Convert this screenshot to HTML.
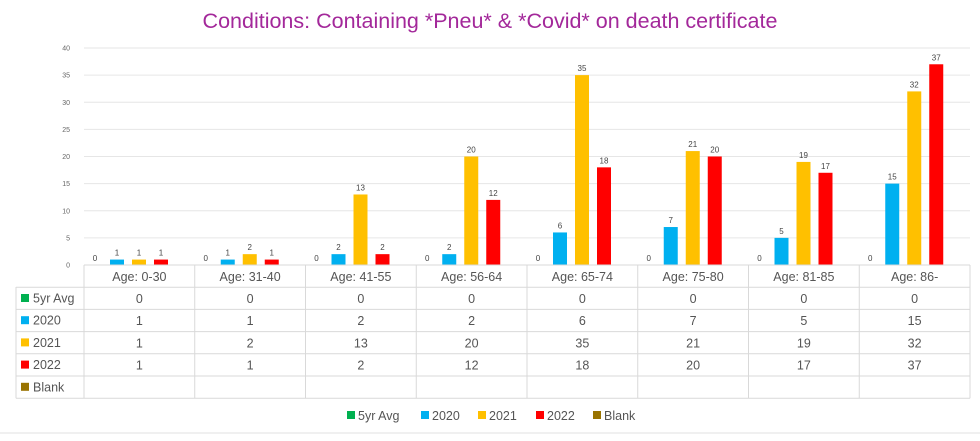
<!DOCTYPE html>
<html><head><meta charset="utf-8"><style>
body{margin:0;background:#fff;width:980px;height:436px;overflow:hidden;font-family:"Liberation Sans",sans-serif}
</style></head><body>
<svg id="s" width="980" height="436" xmlns="http://www.w3.org/2000/svg" font-family="Liberation Sans, sans-serif"></svg>
<script>
const s=document.getElementById('s');let h='';
h+='<text x="490" y="28" text-anchor="middle" font-size="21.5" fill="#a3289a">Conditions: Containing *Pneu* &amp; *Covid* on death certificate</text>';
const y0=265,k=217/40,x0=84,cw=110.75;
for(let v=0;v<=40;v+=5){const y=y0-v*k;h+=`<text x="70" y="${y+2.5}" text-anchor="end" font-size="7" fill="#666">${v}</text>`;if(v>0)h+=`<line x1="84" x2="970" y1="${y}" y2="${y}" stroke="#e6e6e6" stroke-width="1"/>`;}
const cats=['Age: 0-30','Age: 31-40','Age: 41-55','Age: 56-64','Age: 65-74','Age: 75-80','Age: 81-85','Age: 86-'];
const data=[[0,0,0,0,0,0,0,0],[1,1,2,2,6,7,5,15],[1,2,13,20,35,21,19,32],[1,1,2,12,18,20,17,37]];
const cols=['#00b050','#00b0f0','#ffc000','#ff0000','#997300'];
const names=['5yr Avg','2020','2021','2022','Blank'];
for(let c=0;c<8;c++){const cx=x0+c*cw;for(let si=0;si<4;si++){const v=data[si][c];const xc=cx+11+22*si;const hh=v*k;if(v>0)h+=`<rect x="${xc-7}" y="${y0-hh}" width="14" height="${hh}" fill="${cols[si]}"/>`;h+=`<text x="${xc}" y="${y0-hh-4}" text-anchor="middle" font-size="8" fill="#444">${v}</text>`;}}
const g='#d9d9d9';
for(let r=0;r<=6;r++){const y=265+r*22.2;const xs=r==0?84:16;h+=`<line x1="${xs}" x2="970" y1="${y}" y2="${y}" stroke="${g}"/>`;}
const yb=265+6*22.2;
h+=`<line x1="16" x2="16" y1="287" y2="${yb}" stroke="${g}"/>`;
for(let c=0;c<=8;c++){const x=x0+c*cw;h+=`<line x1="${x}" x2="${x}" y1="265" y2="${yb}" stroke="${g}"/>`;}
for(let c=0;c<8;c++){const xc=x0+c*cw+cw/2;h+=`<text x="${xc}" y="281" text-anchor="middle" font-size="12.5" fill="#555">${cats[c]}</text>`;for(let si=0;si<4;si++)h+=`<text x="${xc}" y="${303+si*22.2}" text-anchor="middle" font-size="12.5" fill="#555">${data[si][c]}</text>`;}
for(let si=0;si<5;si++){const y=298+si*22.2;h+=`<rect x="21" y="${y-4}" width="8" height="8" fill="${cols[si]}"/><text x="33" y="${y+4.5}" font-size="12.5" fill="#555">${names[si]}</text>`;}
const lx=[347,421,478,536,593];
for(let i=0;i<5;i++){h+=`<rect x="${lx[i]}" y="411" width="8" height="8" fill="${cols[i]}"/><text x="${lx[i]+11}" y="420" font-size="12.5" fill="#555">${names[i]}</text>`;}
h+=`<line x1="0" x2="980" y1="433" y2="433" stroke="#e0e0e0"/>`;
s.innerHTML=h;
</script>
</body></html>
